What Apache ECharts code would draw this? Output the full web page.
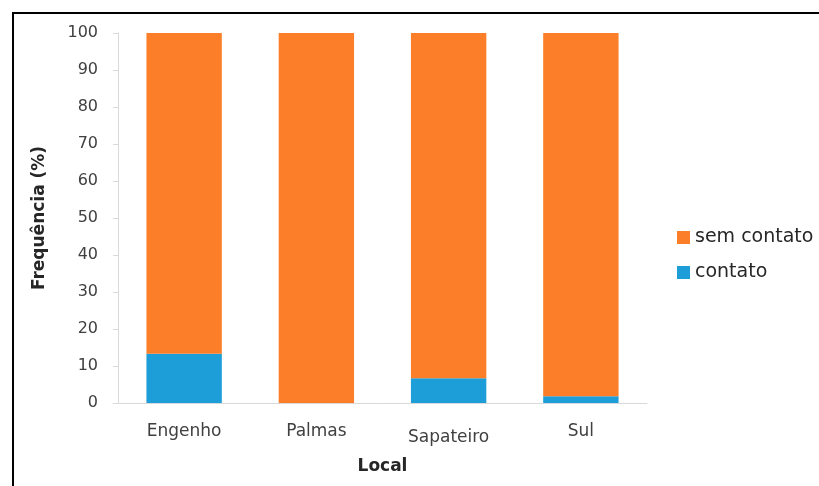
<!DOCTYPE html>
<html>
<head>
<meta charset="utf-8">
<script src="https://cdn.jsdelivr.net/npm/echarts@6/dist/echarts.min.js"></script>
<style>
  html, body { margin: 0; padding: 0; background: #fff; }
  #chart { width: 819px; height: 486px; }
</style>
</head>
<body>
<div id="chart"></div>
<script>
const locais = ["Engenho", "Palmas", "Sapateiro", "Sul"];
const contato = [13.3, 0, 6.7, 1.8];
const semContato = [86.7, 100, 93.3, 98.2];
const yTicks = [0, 10, 20, 30, 40, 50, 60, 70, 80, 90, 100];

const font = "DejaVu Sans";
const myChart = echarts.init(document.getElementById("chart"));

const option = {
  animation: false,
  graphic: [
    {
      // moldura preta da figura
      type: "rect",
      shape: { x: 13, y: 13, width: 840, height: 520 },
      style: { fill: "none", stroke: "#000", lineWidth: 2 }
    }
  ],
  grid: { left: 118, right: 172, top: 33, bottom: 83 },
  legend: {
    data: ["sem contato", "contato"],
    orient: "vertical",
    left: 672,
    top: 223,
    itemWidth: 13,
    itemHeight: 13,
    itemGap: 16,
    icon: "rect",
    textStyle: { fontFamily: font, fontSize: 19, color: "#262626" }
  },
  xAxis: {
    type: "category",
    data: locais,
    name: "Local",
    nameLocation: "middle",
    nameGap: 55,
    nameTextStyle: { fontFamily: font, fontSize: 17, fontWeight: "bold", color: "#262626" },
    axisLine: { lineStyle: { color: "#d9d9d9", width: 1 } },
    axisTick: { show: false },
    axisLabel: {
      interval: 0,
      margin: 20,
      fontFamily: font,
      fontSize: 17,
      color: "#404040",
      formatter: v => (v === "Sapateiro" ? "{s|" + v + "}" : v),
      rich: { s: { fontFamily: font, fontSize: 17, color: "#404040", padding: [6, 0, 0, 0] } }
    }
  },
  yAxis: {
    type: "value",
    min: yTicks[0],
    max: yTicks[yTicks.length - 1],
    interval: 10,
    name: "Frequência (%)",
    nameLocation: "middle",
    nameGap: 70,
    nameTextStyle: { fontFamily: font, fontSize: 17, fontWeight: "bold", color: "#262626" },
    axisLine: { show: true, lineStyle: { color: "#d9d9d9", width: 1 } },
    axisTick: { show: true, length: 5, lineStyle: { color: "#d9d9d9" } },
    splitLine: { show: false },
    axisLabel: { margin: 20, fontFamily: font, fontSize: 16, color: "#404040" }
  },
  series: [
    {
      name: "contato",
      type: "bar",
      stack: "total",
      data: contato,
      barWidth: "57%",
      itemStyle: { color: "#1e9ed9" }
    },
    {
      name: "sem contato",
      type: "bar",
      stack: "total",
      data: semContato,
      barWidth: "57%",
      itemStyle: { color: "#fd7e28" }
    }
  ]
};
option && myChart.setOption(option);
</script>
</body>
</html>
